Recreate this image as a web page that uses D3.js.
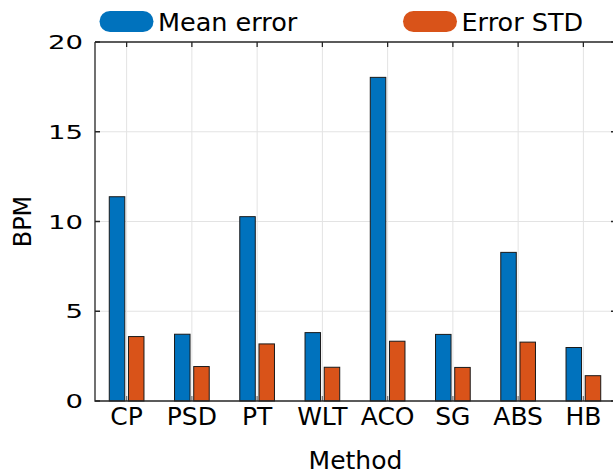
<!DOCTYPE html>
<html>
<head>
<meta charset="utf-8">
<script src="https://cdn.jsdelivr.net/npm/d3@7"></script>
<style>
  body { margin: 0; background: #fff; }
  text { font-family: 'DejaVu Sans', sans-serif; fill: #000; }
</style>
</head>
<body>
<script>
const methods = ['CP', 'PSD', 'PT', 'WLT', 'ACO', 'SG', 'ABS', 'HB'];
const meanError = [11.38, 3.72, 10.27, 3.81, 18.03, 3.71, 8.28, 2.98];
const errorStd = [3.59, 1.92, 3.18, 1.88, 3.33, 1.87, 3.28, 1.41];
const yTicks = [0, 5, 10, 15, 20];
const seriesNames = ['Mean error', 'Error STD'];
const seriesColors = ['#0072BD', '#D95319'];

const width = 613, height = 476;
const plot = { left: 95, right: 616, top: 42, bottom: 401 };

const svg = d3.select('body').append('svg')
  .attr('width', width)
  .attr('height', height);

const x = d3.scaleBand().domain(methods).range([plot.left - 1, plot.right]).padding(0);
const y = d3.scaleLinear().domain([0, 20]).range([plot.bottom, plot.top]);
const cx = d => x(d) + x.bandwidth() / 2;

// grid
svg.append('g').selectAll('line').data(yTicks.slice(1, -1)).join('line')
  .attr('x1', plot.left).attr('x2', plot.right)
  .attr('y1', d => y(d)).attr('y2', d => y(d))
  .attr('stroke', '#e3e3e3').attr('stroke-width', 1);
svg.append('g').selectAll('line').data(methods).join('line')
  .attr('x1', d => cx(d)).attr('x2', d => cx(d))
  .attr('y1', plot.top).attr('y2', plot.bottom)
  .attr('stroke', '#e3e3e3').attr('stroke-width', 1);

// inner ticks on bottom (visible between bars)
svg.append('g').selectAll('line').data(methods).join('line')
  .attr('x1', d => cx(d)).attr('x2', d => cx(d))
  .attr('y1', plot.bottom).attr('y2', plot.bottom - 5)
  .attr('stroke', '#777').attr('stroke-width', 1.3);

// bars
const barW = 15.5, off = 9.6;
const bars = svg.append('g');
bars.selectAll('rect.mean').data(methods).join('rect')
  .attr('class', 'mean')
  .attr('x', (d, i) => cx(d) - off - barW / 2)
  .attr('y', (d, i) => y(meanError[i]))
  .attr('width', barW)
  .attr('height', (d, i) => y(0) - y(meanError[i]))
  .attr('fill', seriesColors[0]).attr('stroke', '#1a1a1a').attr('stroke-width', 1);
bars.selectAll('rect.std').data(methods).join('rect')
  .attr('class', 'std')
  .attr('x', (d, i) => cx(d) + off - barW / 2)
  .attr('y', (d, i) => y(errorStd[i]))
  .attr('width', barW)
  .attr('height', (d, i) => y(0) - y(errorStd[i]))
  .attr('fill', seriesColors[1]).attr('stroke', '#1a1a1a').attr('stroke-width', 1);

// axes box
const axisColor = '#262626';
svg.append('path')
  .attr('d', `M${plot.left},${plot.top}V${plot.bottom}H${plot.right}M${plot.left},${plot.top}H${plot.right}V${plot.bottom}`)
  .attr('fill', 'none').attr('stroke', axisColor).attr('stroke-width', 1.3);

// y ticks (left & right, inward)
svg.append('g').selectAll('path').data(yTicks).join('path')
  .attr('d', d => `M${plot.left},${y(d)}h5M${plot.right},${y(d)}h-5`)
  .attr('stroke', axisColor).attr('stroke-width', 1.3);
// top ticks
svg.append('g').selectAll('line').data(methods).join('line')
  .attr('x1', d => cx(d)).attr('x2', d => cx(d))
  .attr('y1', plot.top).attr('y2', plot.top + 5)
  .attr('stroke', axisColor).attr('stroke-width', 1.3);

// y tick labels (wide digits)
svg.append('g').selectAll('text').data(yTicks).join('text')
  .attr('transform', d => `translate(83,${y(d) + 7}) scale(1.45,1)`)
  .attr('text-anchor', 'end')
  .style('font-size', '19px')
  .text(d => d);

// x tick labels
svg.append('g').selectAll('text').data(methods).join('text')
  .attr('x', d => cx(d))
  .attr('y', 425)
  .attr('text-anchor', 'middle')
  .style('font-size', '25px')
  .text(d => d);

// axis titles
svg.append('text')
  .attr('x', (plot.left + plot.right) / 2)
  .attr('y', 469)
  .attr('text-anchor', 'middle')
  .style('font-size', '25px')
  .text('Method');
svg.append('text')
  .attr('transform', `translate(31,${(plot.top + plot.bottom) / 2}) rotate(-90)`)
  .attr('text-anchor', 'middle')
  .style('font-size', '24px')
  .text('BPM');

// legend
const legendX = [99.5, 403];
const legend = svg.append('g').selectAll('g').data(seriesNames).join('g')
  .attr('transform', (d, i) => `translate(${legendX[i]},11)`);
legend.append('rect')
  .attr('width', 54).attr('height', 21).attr('rx', 10.5)
  .attr('fill', (d, i) => seriesColors[i]);
legend.append('text')
  .attr('x', 58.5).attr('y', 20)
  .style('font-size', '25.5px')
  .text(d => d);
</script>
</body>
</html>
